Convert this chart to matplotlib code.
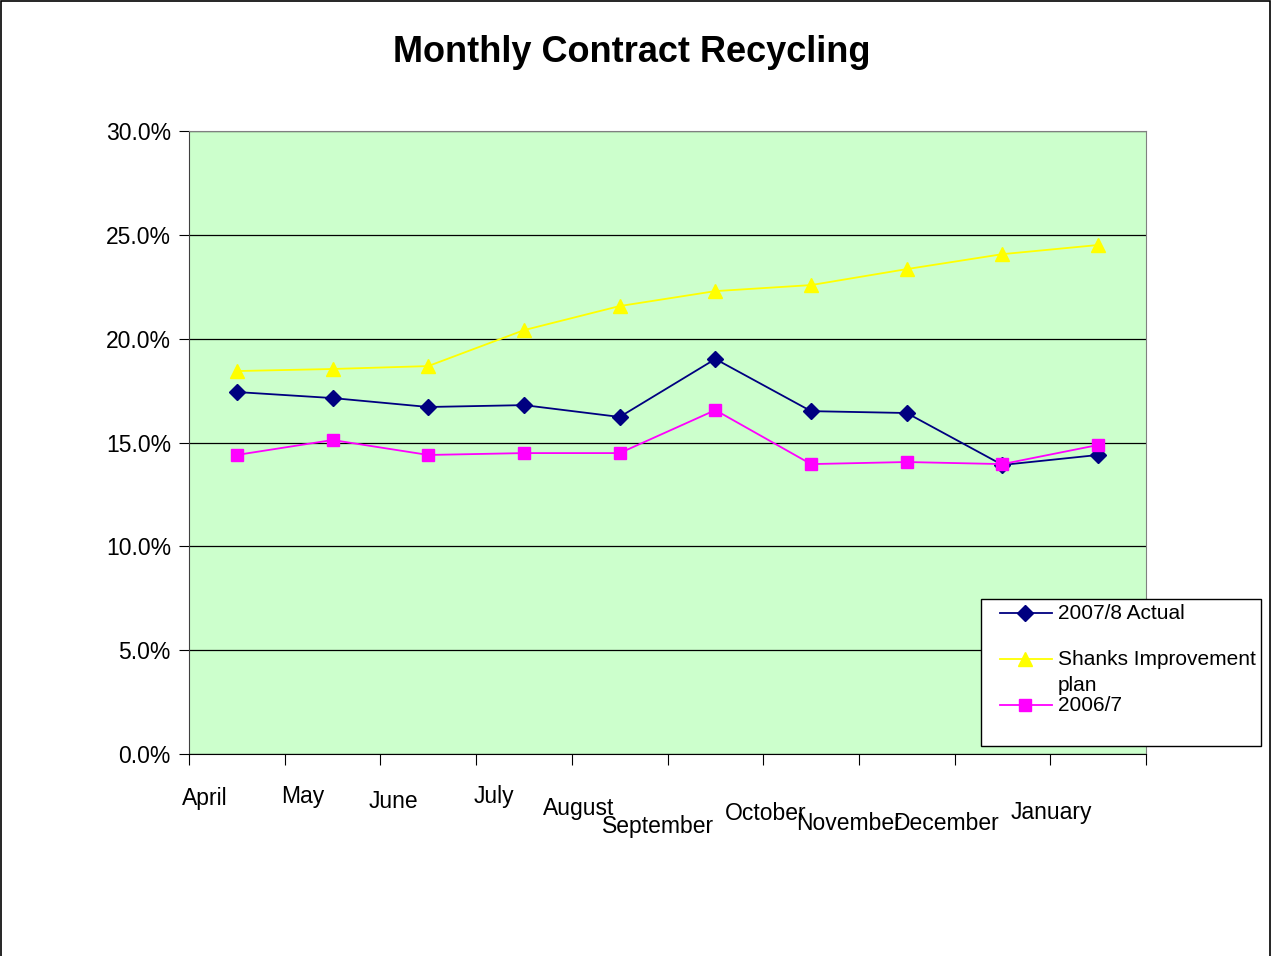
import matplotlib.pyplot as plt
import matplotlib.patches as patches
from matplotlib.lines import Line2D
from matplotlib.ticker import FuncFormatter
import numpy as np

plt.rcParams['font.family'] = ['Liberation Sans', 'DejaVu Sans']

months = ['April', 'May', 'June', 'July', 'August', 'September',
          'October', 'November', 'December', 'January']
actual_0708 = [17.43, 17.14, 16.71, 16.80, 16.23, 19.02, 16.51, 16.42, 13.92, 14.40]
shanks_plan = [18.44, 18.54, 18.68, 20.41, 21.57, 22.29, 22.58, 23.35, 24.07, 24.51]
actual_0607 = [14.40, 15.12, 14.40, 14.49, 14.49, 16.56, 13.96, 14.06, 13.96, 14.88]

# month labels are staggered like the original Excel export (pixel offsets)
label_dx = [-32, -30, -35, -30, -41, -57, -45, -58, -56, -47]
label_y = [799, 796, 801, 797, 808, 826, 813, 823, 823, 813]

W, H = 1271, 956
fig = plt.figure(figsize=(W / 100, H / 100), dpi=100)
fig.patch.set_facecolor('white')
fig.patches.append(patches.Rectangle((1 / W, -0.1), (W - 2) / W, 1.1 - 1 / H,
                                     transform=fig.transFigure, fill=False,
                                     edgecolor='black', linewidth=1.2))

ax = fig.add_axes([189 / W, 1 - 754 / H, (1146 - 189) / W, (754 - 131) / H])
ax.set_facecolor('#CCFFCC')

x = np.arange(len(months))
ax.plot(x, actual_0708, color='#000080', marker='D', markersize=8, linewidth=1.3)
ax.plot(x, shanks_plan, color='#FFFF00', marker='^', markersize=10, linewidth=1.3)
ax.plot(x, actual_0607, color='#FF00FF', marker='s', markersize=8, linewidth=1.3)

ax.set_xlim(-0.5, len(months) - 0.5)
ax.set_ylim(0, 30)
ax.set_yticks(np.arange(0, 31, 5))
ax.yaxis.set_major_formatter(FuncFormatter(lambda v, p: f'{v:.1f}%'))
ax.tick_params(axis='y', labelsize=16.5, length=7, direction='out', pad=6)
ax.grid(axis='y', color='black', linewidth=0.9)
ax.set_axisbelow(True)

ax.set_xticks(np.arange(-0.5, len(months), 1))
ax.set_xticklabels([])
ax.tick_params(axis='x', length=8, direction='out')

for s in ['top', 'right']:
    ax.spines[s].set_color('#808080')
ax.spines['left'].set_color('#404040')
ax.spines['bottom'].set_color('black')

# staggered month labels
for i, m in enumerate(months):
    px = ax.transData.transform((x[i], 0))[0] + label_dx[i]
    fig.text(px / W, 1 - label_y[i] / H, m, fontsize=16.5, ha='center', va='center')

fig.text(632 / W, 1 - 53 / H, 'Monthly Contract Recycling', fontsize=26,
         fontweight='bold', ha='center', va='center')

# legend box
fig.patches.append(patches.Rectangle((981 / W, 1 - 746 / H), 280 / W, 147 / H,
                                     transform=fig.transFigure, facecolor='white',
                                     edgecolor='black', linewidth=1, zorder=5))
entries = [('2007/8 Actual', '#000080', 'D', 8, 613),
           ('Shanks Improvement\nplan', '#FFFF00', '^', 10, 659),
           ('2006/7', '#FF00FF', 's', 8, 705)]
for label, col, mk, ms, yy in entries:
    fy = 1 - yy / H
    fig.lines.append(Line2D([1000 / W, 1052 / W], [fy, fy], transform=fig.transFigure,
                            color=col, linewidth=1.3, zorder=6))
    fig.lines.append(Line2D([1025 / W], [fy], transform=fig.transFigure, color=col,
                            marker=mk, markersize=ms, zorder=6))
    fig.text(1058 / W, fy + 9 / H, label, fontsize=15, ha='left', va='top',
             linespacing=1.45, zorder=7)

fig.savefig('out.png', dpi=100)
